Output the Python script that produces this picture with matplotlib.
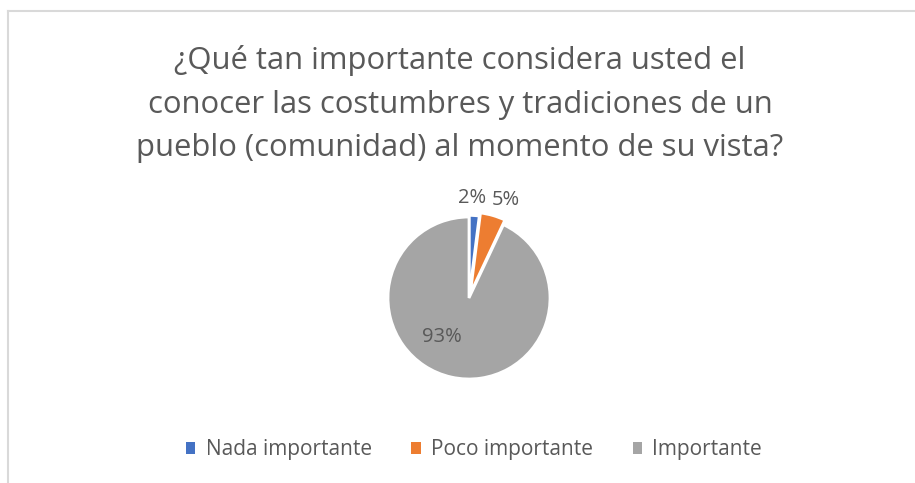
import matplotlib
matplotlib.use("Agg")
import matplotlib.pyplot as plt
from matplotlib.patches import Rectangle
from matplotlib.lines import Line2D

categories = ["Nada importante", "Poco importante", "Importante"]
values = [2, 5, 93]
labels = ["2%", "5%", "93%"]
colors = ["#4472C4", "#ED7D31", "#A5A5A5"]
title = "¿Qué tan importante considera usted el\nconocer las costumbres y tradiciones de un\npueblo (comunidad) al momento de su vista?"

plt.rcParams['font.family'] = ['Open Sans', 'DejaVu Sans']
txt = "#595959"

fig = plt.figure(figsize=(9.15, 4.83), dpi=100)
fig.patch.set_facecolor("white")

# frame lines (chart border, cropped)
fig.add_artist(Line2D([7.5/915, 7.5/915], [0, 1 - 11/483], color="#D9D9D9", lw=1.5, transform=fig.transFigure))
fig.add_artist(Line2D([7.5/915, 1], [1 - 11/483, 1 - 11/483], color="#D9D9D9", lw=1.5, transform=fig.transFigure))

fig.text(460/915, 1 - 104/483, title, ha="center", va="center", fontsize=22.3,
         color=txt, linespacing=1.6)

r_px = 81
cx, cy = 469, 298
ax = fig.add_axes([(cx - r_px)/915, 1 - (cy + r_px)/483, 2*r_px/915, 2*r_px/483])
wedges, _ = ax.pie(values, colors=colors, startangle=90, counterclock=False,
                   explode=[0.02, 0.06, 0.0],
                   wedgeprops=dict(edgecolor="white", linewidth=2))
ax.set_xlim(-1, 1)
ax.set_ylim(-1, 1)
ax.set_aspect("equal")
ax.axis("off")

fig.text(472/915, 1 - 198/483, labels[0], ha="center", va="center", fontsize=14.5, color=txt)
fig.text(506/915, 1 - 200/483, labels[1], ha="center", va="center", fontsize=14.5, color=txt)
fig.text(442/915, 1 - 337/483, labels[2], ha="center", va="center", fontsize=14.5, color=txt)

handles = [Rectangle((0, 0), 1, 1, facecolor=c, edgecolor="none") for c in colors]
leg = fig.legend(handles, categories, loc="center", bbox_to_anchor=(474/915, 1 - 450/483),
                 ncol=3, frameon=False, fontsize=15, labelcolor=txt,
                 handlelength=0.45, handleheight=0.45, handletextpad=0.5, columnspacing=1.9)

fig.savefig("out.png", dpi=100, facecolor="white")
